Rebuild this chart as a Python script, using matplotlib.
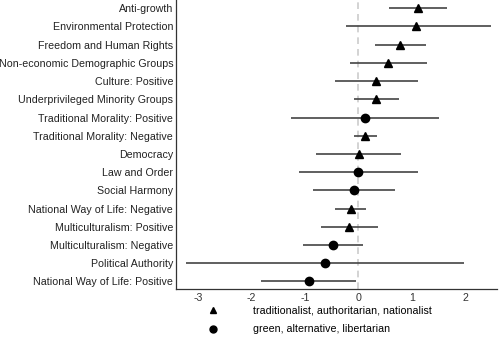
import numpy as np
import matplotlib
matplotlib.use('Agg')
import matplotlib.pyplot as plt
from matplotlib.lines import Line2D

plt.rcParams['font.family'] = ['Liberation Sans', 'DejaVu Sans']

labels = ['Anti-growth', 'Environmental Protection', 'Freedom and Human Rights',
          'Non-economic Demographic Groups', 'Culture: Positive',
          'Underprivileged Minority Groups', 'Traditional Morality: Positive',
          'Traditional Morality: Negative', 'Democracy', 'Law and Order',
          'Social Harmony', 'National Way of Life: Negative',
          'Multiculturalism: Positive', 'Multiculturalism: Negative',
          'Political Authority', 'National Way of Life: Positive']
est = [1.11, 1.09, 0.79, 0.56, 0.34, 0.33, 0.12, 0.12,
       0.01, 0.0, -0.08, -0.14, -0.17, -0.47, -0.63, -0.92]
lo = [0.58, -0.24, 0.32, -0.15, -0.43, -0.09, -1.26, -0.09,
      -0.79, -1.12, -0.85, -0.43, -0.70, -1.04, -3.24, -1.82]
hi = [1.67, 2.48, 1.26, 1.29, 1.11, 0.76, 1.52, 0.35,
      0.80, 1.11, 0.69, 0.14, 0.37, 0.09, 1.99, -0.04]
# 'tan' = traditionalist/authoritarian/nationalist, 'gal' = green/alternative/libertarian
side = ['tan', 'tan', 'tan', 'tan', 'tan', 'tan', 'gal', 'tan',
        'tan', 'gal', 'gal', 'tan', 'tan', 'gal', 'gal', 'gal']

fig = plt.figure(figsize=(5, 3.5), dpi=100)
ax = fig.add_axes([0.352, 0.175, 0.642, 0.825])

y = np.arange(len(labels))
ax.axvline(0, color='#cccccc', linestyle=(0, (4, 3)), linewidth=1.2, zorder=1)
ax.hlines(y, lo, hi, color='#444444', linewidth=1.2, zorder=2)
for i in range(len(labels)):
    m = '^' if side[i] == 'tan' else 'o'
    ax.plot(est[i], y[i], marker=m, color='black', markersize=6, linestyle='none', zorder=3)

ax.set_yticks(y)
ax.set_yticklabels(labels)
ax.set_xticks([-3, -2, -1, 0, 1, 2])
ax.set_xticklabels(['-3', '-2', '-1', '0', '1', '2'])
ax.set_xlim(-3.42, 2.6)
ax.set_ylim(15.4, -0.45)
ax.tick_params(length=0, labelsize=7.7, colors='#333333', pad=3)
ax.tick_params(axis='y', colors='#222222', pad=2)
for s in ['top', 'right']:
    ax.spines[s].set_visible(False)
for s in ['left', 'bottom']:
    ax.spines[s].set_color('#333333')
    ax.spines[s].set_linewidth(0.9)

handles = [Line2D([], [], marker='^', color='black', linestyle='none', markersize=5),
           Line2D([], [], marker='o', color='black', linestyle='none', markersize=5)]
fig.legend(handles, ['traditionalist, authoritarian, nationalist',
                     'green, alternative, libertarian'],
           loc='upper left', bbox_to_anchor=(0.39, 0.155), frameon=False,
           fontsize=7.7, handletextpad=3.0, labelspacing=0.85, handlelength=1.5)

fig.savefig('out.png', dpi=100)
